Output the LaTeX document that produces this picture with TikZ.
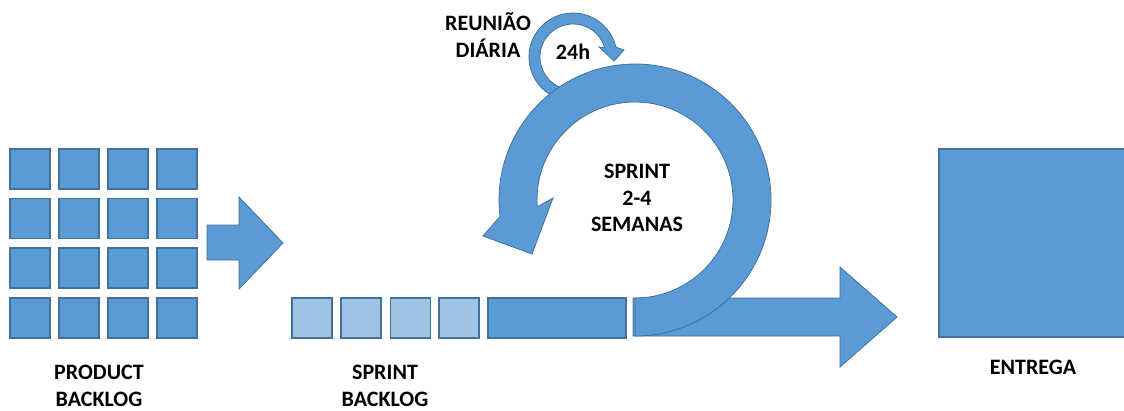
\documentclass[tikz,border=0pt]{standalone}
\usepackage{fontspec}
\setmainfont{Carlito}
\usetikzlibrary{calc}
\definecolor{bfill}{HTML}{5B9BD5}
\definecolor{lfill}{HTML}{9DC3E6}
\definecolor{bline}{HTML}{41719C}
\begin{document}
\begin{tikzpicture}[x=1pt,y=-1pt,
  sq/.style={draw=bline,fill=bfill,line width=1.3pt,minimum width=40pt,minimum height=40pt,inner sep=0pt,outer sep=0pt},
  lsq/.style={sq,fill=lfill},
  blk/.style={draw=bline,fill=bfill,line width=0.8pt,line join=miter},
  lbl/.style={font=\fontsize{22}{26.5}\selectfont\bfseries,align=center,text=black}]
\useasboundingbox (0,0) rectangle (1124,410);
% product backlog grid
\foreach \c/\x in {1/30,2/79,3/128,4/177}{
  \foreach \r/\y in {1/169,2/218.5,3/268,4/318}{
    \node[sq] (p\r\c) at (\x,\y) {};
  }
}
% arrow 1
\draw[blk] (207,225) -- (239,225) -- (239,197) -- (283,243) -- (239,289) -- (239,260) -- (207,260) -- cycle;
% sprint backlog
\foreach \i/\x in {1/312,2/361,3/410.5,4/459}{
  \node[lsq] (s\i) at (\x,318) {};
}
\node[sq,minimum width=138pt] (long) at (557,318) {};
% small loop
\coordinate (c2) at (573,57);
\draw[blk] ($(c2)+(90:44)$) arc[start angle=90,end angle=347,radius=44]
  -- (624,50) -- (614,61) -- (599,47) -- ($(c2)+(344:33)$)
  arc[start angle=344,end angle=90,radius=33] -- cycle;
% straight arrow
\draw[blk] (633,298) -- (840,298) -- (840,267) -- (897,317) -- (840,367) -- (840,336) -- (633,336) -- cycle;
% big ring
\coordinate (c1) at (635,200);
\draw[blk] ($(c1)+(90:136)$) arc[start angle=90,end angle=-187,radius=136]
  -- (483,236) -- (532,254) -- (553,198) -- ($(c1)+(-184:98)$)
  arc[start angle=-184,end angle=90,radius=98] -- cycle;
% entrega
\draw[draw=bline,fill=bfill,line width=1.3pt] (939,149) rectangle (1126,337);
\coordinate (ent) at (1033,243);
% labels
\node[lbl] (reu) at (488,35) {REUNIÃO\\DIÁRIA};
\node[lbl] (h24) at (573,52) {24h};
\node[lbl] (spr) at (637,198) {SPRINT\\2-4\\SEMANAS};
\node[lbl] (pb) at (99,386) {PRODUCT\\BACKLOG};
\node[lbl] (sb) at (385,386) {SPRINT\\BACKLOG};
\node[lbl] (en) at (1033,367) {ENTREGA};
\end{tikzpicture}
\end{document}
